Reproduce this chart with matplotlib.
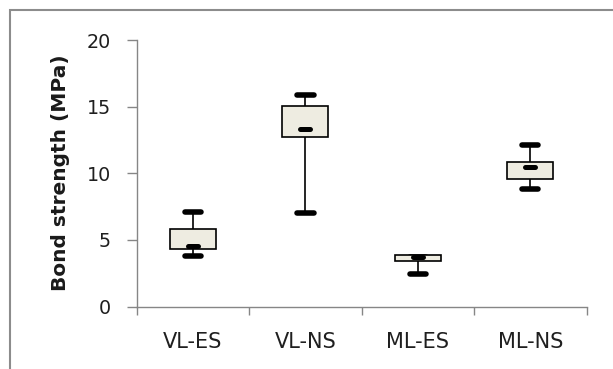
import matplotlib
matplotlib.use('Agg')
import matplotlib.pyplot as plt
from matplotlib.patches import Rectangle

# Box plot values (MPa)
groups = ['VL-ES', 'VL-NS', 'ML-ES', 'ML-NS']
mins = [3.83, 7.0, 2.48, 8.83]
q1 = [4.35, 12.75, 3.43, 9.58]
medians = [4.55, 13.3, 3.75, 10.5]
q3 = [5.83, 15.08, 3.9, 10.83]
maxs = [7.08, 15.86, 3.75, 12.1]

plt.rcParams['font.family'] = ['DejaVu Sans']

fig = plt.figure(figsize=(6.13, 3.69), dpi=100)
ax = fig.add_axes([0.223, 0.169, 0.734, 0.7224])

x = list(range(len(groups)))
grey = '#868686'

# whiskers behind the boxes
ax.vlines(x, mins, maxs, color='black', linewidth=1.2, zorder=1)
# min / max caps
ax.hlines(mins, [i - 0.072 for i in x], [i + 0.072 for i in x],
          color='black', linewidth=4.0, capstyle='round', zorder=2)
ax.hlines(maxs, [i - 0.072 for i in x], [i + 0.072 for i in x],
          color='black', linewidth=4.0, capstyle='round', zorder=2)
# boxes
ax.bar(x, [b - a for a, b in zip(q1, q3)], bottom=q1, width=0.41,
       color='#EEECE1', edgecolor='black', linewidth=1.2, zorder=3)
# medians
ax.hlines(medians, [i - 0.045 for i in x], [i + 0.045 for i in x],
          color='black', linewidth=3.6, capstyle='round', zorder=4)

ax.set_xlim(-0.5, 3.5)
ax.set_ylim(0, 20)
ax.set_yticks([0, 5, 10, 15, 20])
ax.set_xticks([-0.5, 0.5, 1.5, 2.5, 3.5])
ax.set_xticklabels([])
ax.set_xticks(x, minor=True)
ax.set_xticklabels(groups, minor=True)

for s in ['top', 'right']:
    ax.spines[s].set_visible(False)
for s in ['left', 'bottom']:
    ax.spines[s].set_color(grey)
    ax.spines[s].set_linewidth(1.0)

ax.tick_params(axis='y', length=7.5, width=1.0, color=grey, pad=11,
               labelsize=13.8, labelcolor='#1f1f1f')
ax.tick_params(axis='x', which='major', length=6, width=1.0, color=grey)
ax.tick_params(axis='x', which='minor', length=0, pad=18,
               labelsize=15, labelcolor='#1f1f1f')

fig.text(61 / 613, 0.5325, 'Bond strength (MPa)', rotation=90, ha='center',
         va='center', fontsize=14.5, fontweight='bold', color='#1a1a1a')

# outer frame, cut off at the right and bottom edges
fig.patches.append(Rectangle((9.5 / 613, -0.1), 1.0, 0.1 + 1 - 10 / 369,
                             transform=fig.transFigure, fill=False,
                             edgecolor='#8c8c8c', linewidth=1.5))

fig.savefig('out.png', dpi=100)
